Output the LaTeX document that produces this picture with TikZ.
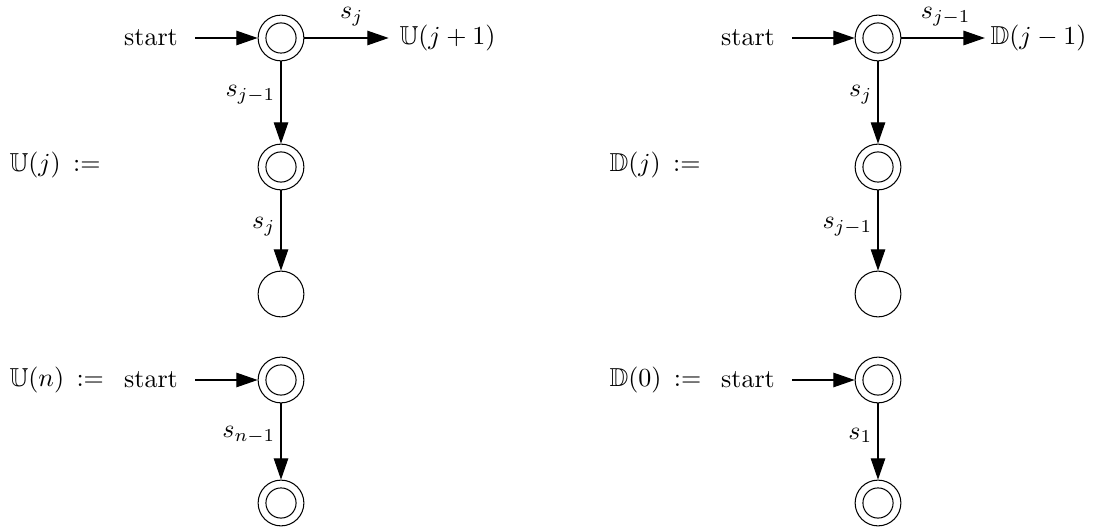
\documentclass[tikz,border=0pt]{standalone}
\usepackage{amssymb}
\usetikzlibrary{arrows.meta}
\begin{document}
\begin{tikzpicture}[x=0.3846pt,y=-0.3846pt,
  plainstate/.style={circle,draw,minimum size=17.6pt,inner sep=0pt},
  accstate/.style={plainstate,path picture={\draw (path picture bounding box.center) circle (5.8pt);}},
  txt/.style={inner sep=0pt},
  edge/.style={draw,-{Triangle[length=8.2pt,width=5.6pt]}},
  lab/.style={inner sep=2pt},
  toplab/.style={inner sep=4.5pt,above}
]
\useasboundingbox (0,0) rectangle (1102,532);
% U(j)
\node[txt,anchor=west] (uj) at (9,165) {$\mathbb{U}(j)\hspace{2pt} :=$};
\node[accstate] (a1) at (281,38) {};
\node[accstate] (a2) at (281,167) {};
\node[plainstate] (a3) at (281,294) {};
\node[txt] (sa) at (151,38) {start};
\node[txt,anchor=west] (uj1) at (399,38) {$\mathbb{U}(j+1)$};
\draw[edge,shorten <=6.5pt] (sa) -- (a1);
\draw[edge,shorten >=4pt] (a1) -- node[toplab] {$s_j$} (uj1);
\draw[edge] (a1) -- node[lab,left,pos=0.4] {$s_{j-1}$} (a2);
\draw[edge] (a2) -- node[lab,left,pos=0.45] {$s_j$} (a3);
% U(n)
\node[txt,anchor=west] (un) at (9,380) {$\mathbb{U}(n)\hspace{2pt} :=$};
\node[accstate] (b1) at (281,380) {};
\node[accstate] (b2) at (281,503) {};
\node[txt] (sb) at (151,380) {start};
\draw[edge,shorten <=6.5pt] (sb) -- (b1);
\draw[edge] (b1) -- node[lab,left,pos=0.42] {$s_{n-1}$} (b2);
% D(j)
\node[txt,anchor=west] (dj) at (609,165) {$\mathbb{D}(j)\hspace{2pt} :=$};
\node[accstate] (c1) at (878,38) {};
\node[accstate] (c2) at (878,167) {};
\node[plainstate] (c3) at (878,294) {};
\node[txt] (sc) at (748,38) {start};
\node[txt,anchor=west] (dj1) at (990,38) {$\mathbb{D}(j-1)$};
\draw[edge,shorten <=6.5pt] (sc) -- (c1);
\draw[edge,shorten >=2pt] (c1) -- node[toplab] {$s_{j-1}$} (dj1);
\draw[edge] (c1) -- node[lab,left,pos=0.4] {$s_j$} (c2);
\draw[edge] (c2) -- node[lab,left,pos=0.45] {$s_{j-1}$} (c3);
% D(0)
\node[txt,anchor=west] (d0) at (609,380) {$\mathbb{D}(0)\hspace{2pt} :=$};
\node[accstate] (e1) at (878,380) {};
\node[accstate] (e2) at (878,503) {};
\node[txt] (se) at (748,380) {start};
\draw[edge,shorten <=6.5pt] (se) -- (e1);
\draw[edge] (e1) -- node[lab,left,pos=0.42] {$s_1$} (e2);
\end{tikzpicture}
\end{document}
